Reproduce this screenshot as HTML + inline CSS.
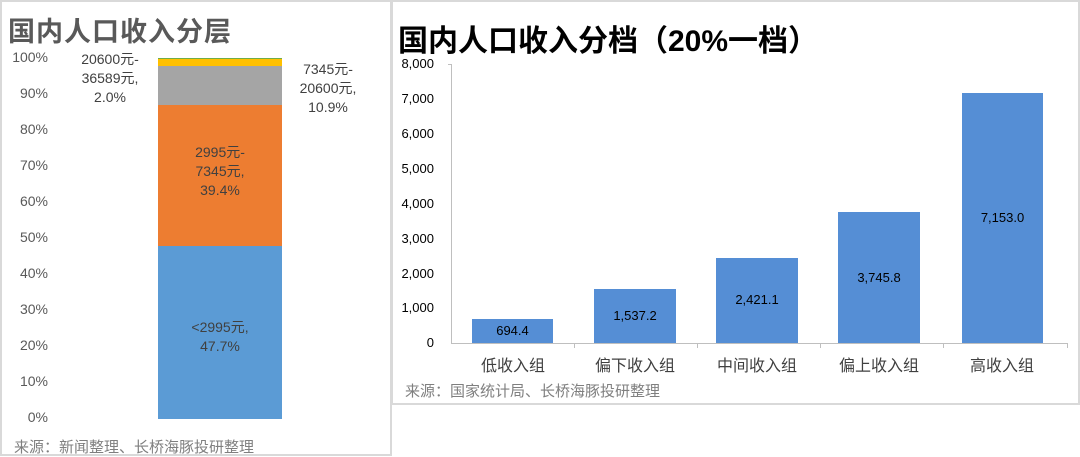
<!DOCTYPE html>
<html><head><meta charset="utf-8"><style>
body{margin:0;width:1080px;height:456px;background:#fff;position:relative;overflow:hidden;font-family:"Liberation Sans","Noto Sans CJK SC",sans-serif}
.a{position:absolute}
.yl{position:absolute;font-size:14px;color:#595959;text-align:right}
.lab{position:absolute;font-size:14px;color:#404040;text-align:center;line-height:19px}
.bar{position:absolute;background:#558ed5}
.v{position:absolute;font-size:13px;color:#000;text-align:center}
.x{position:absolute;font-size:16px;color:#404040;text-align:center;width:120px;top:352px}
</style></head><body>
<div class="a" style="left:0;top:0;width:388px;height:452px;border:2px solid #d9d9d9"></div>
<div class="a" style="left:391px;top:0;width:685px;height:401px;border:2px solid #d9d9d9"></div>
<div class="a" style="left:8px;top:10px;font-size:27px;font-weight:bold;color:#595959;letter-spacing:1px">国内人口收入分层</div>
<div class="yl" style="left:0;width:48px;top:49px">100%</div>
<div class="yl" style="left:0;width:48px;top:85px">90%</div>
<div class="yl" style="left:0;width:48px;top:121px">80%</div>
<div class="yl" style="left:0;width:48px;top:157px">70%</div>
<div class="yl" style="left:0;width:48px;top:193px">60%</div>
<div class="yl" style="left:0;width:48px;top:229px">50%</div>
<div class="yl" style="left:0;width:48px;top:265px">40%</div>
<div class="yl" style="left:0;width:48px;top:301px">30%</div>
<div class="yl" style="left:0;width:48px;top:337px">20%</div>
<div class="yl" style="left:0;width:48px;top:373px">10%</div>
<div class="yl" style="left:0;width:48px;top:409px">0%</div>
<div class="a" style="left:158px;top:58px;width:124px;height:1px;background:#70ad47"></div>
<div class="a" style="left:158px;top:59px;width:124px;height:7px;background:#ffc000"></div>
<div class="a" style="left:158px;top:66px;width:124px;height:39px;background:#a5a5a5"></div>
<div class="a" style="left:158px;top:105px;width:124px;height:141px;background:#ed7d31"></div>
<div class="a" style="left:158px;top:246px;width:124px;height:173px;background:#5b9bd5"></div>
<div class="lab" style="left:70px;width:80px;top:50px">20600元-<br>36589元,<br>2.0%</div>
<div class="lab" style="left:288px;width:80px;top:60px">7345元-<br>20600元,<br>10.9%</div>
<div class="lab" style="left:158px;width:124px;top:143px">2995元-<br>7345元,<br>39.4%</div>
<div class="lab" style="left:158px;width:124px;top:318px">&lt;2995元,<br>47.7%</div>
<div class="a" style="left:14px;top:436px;font-size:15px;color:#7f7f7f">来源：新闻整理、长桥海豚投研整理</div>

<div class="a" style="left:398px;top:16px;font-size:30px;font-weight:bold;color:#000">国内人口收入分档（20%一档）</div>
<div class="yl" style="left:390px;width:44px;top:56px;font-size:13px;color:#000">8,000</div>
<div class="yl" style="left:390px;width:44px;top:91px;font-size:13px;color:#000">7,000</div>
<div class="yl" style="left:390px;width:44px;top:126px;font-size:13px;color:#000">6,000</div>
<div class="yl" style="left:390px;width:44px;top:161px;font-size:13px;color:#000">5,000</div>
<div class="yl" style="left:390px;width:44px;top:196px;font-size:13px;color:#000">4,000</div>
<div class="yl" style="left:390px;width:44px;top:231px;font-size:13px;color:#000">3,000</div>
<div class="yl" style="left:390px;width:44px;top:266px;font-size:13px;color:#000">2,000</div>
<div class="yl" style="left:390px;width:44px;top:300px;font-size:13px;color:#000">1,000</div>
<div class="yl" style="left:390px;width:44px;top:335px;font-size:13px;color:#000">0</div>
<div class="a" style="left:451px;top:64px;width:1px;height:279px;background:#bfbfbf"></div>
<div class="a" style="left:448px;top:64px;width:4px;height:1px;background:#bfbfbf"></div>
<div class="a" style="left:451px;top:343px;width:617px;height:1px;background:#bfbfbf"></div>
<div class="a" style="left:574px;top:343px;width:1px;height:5px;background:#bfbfbf"></div>
<div class="a" style="left:697px;top:343px;width:1px;height:5px;background:#bfbfbf"></div>
<div class="a" style="left:820px;top:343px;width:1px;height:5px;background:#bfbfbf"></div>
<div class="a" style="left:943px;top:343px;width:1px;height:5px;background:#bfbfbf"></div>
<div class="a" style="left:1067px;top:343px;width:1px;height:5px;background:#bfbfbf"></div>
<div class="bar" style="left:472px;top:319px;width:81px;height:24px"></div>
<div class="bar" style="left:594px;top:289px;width:82px;height:54px"></div>
<div class="bar" style="left:716px;top:258px;width:82px;height:85px"></div>
<div class="bar" style="left:838px;top:212px;width:82px;height:131px"></div>
<div class="bar" style="left:962px;top:93px;width:81px;height:250px"></div>
<div class="v" style="left:472px;width:81px;top:323px">694.4</div>
<div class="v" style="left:594px;width:82px;top:308px">1,537.2</div>
<div class="v" style="left:716px;width:82px;top:292px">2,421.1</div>
<div class="v" style="left:838px;width:82px;top:270px">3,745.8</div>
<div class="v" style="left:962px;width:81px;top:210px">7,153.0</div>
<div class="x" style="left:453px">低收入组</div>
<div class="x" style="left:575px">偏下收入组</div>
<div class="x" style="left:697px">中间收入组</div>
<div class="x" style="left:819px">偏上收入组</div>
<div class="x" style="left:942px">高收入组</div>
<div class="a" style="left:405px;top:380px;font-size:15px;color:#7f7f7f">来源：国家统计局、长桥海豚投研整理</div>
</body></html>
